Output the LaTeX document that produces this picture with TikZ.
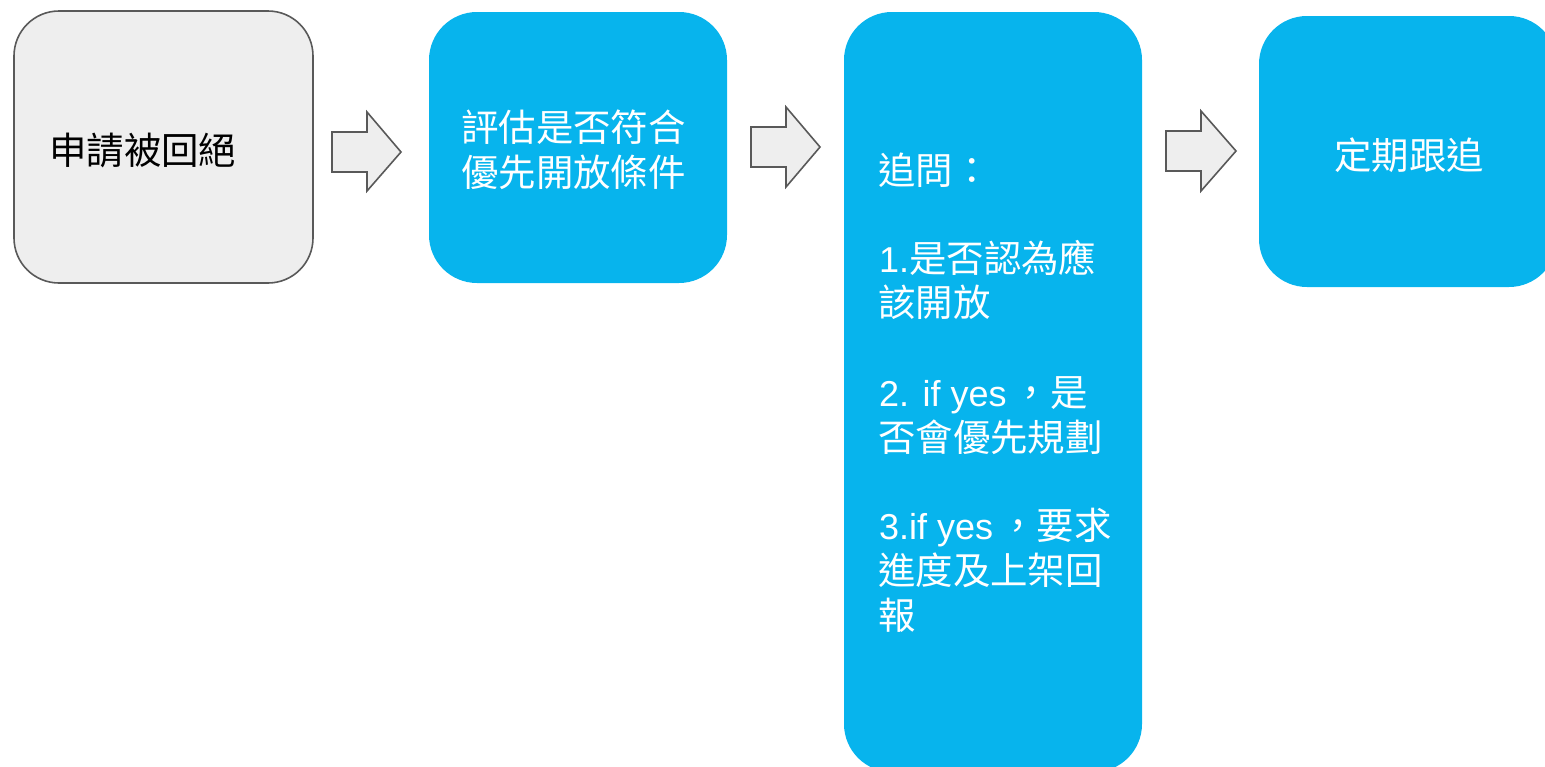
\documentclass[tikz,border=0pt]{standalone}
\usepackage{fontspec}
\setmainfont{Liberation Sans}
\newfontfamily\cjkfont[Scale=1.04]{Noto Sans CJK TC}
\newcommand\zhtxt[1]{{\cjkfont #1}}
\definecolor{boxblue}{RGB}{7,180,237}
\definecolor{boxgray}{RGB}{238,238,238}
\definecolor{edgegray}{RGB}{89,89,89}
\begin{document}
\begin{tikzpicture}[x=1pt,y=-1pt,
  graybox/.style={draw=edgegray,line width=1.6pt,fill=boxgray,rounded corners=45pt,inner sep=0pt},
  bluebox/.style={fill=boxblue,rounded corners=48pt,inner sep=0pt},
  blockarrow/.style={draw=edgegray,line width=1.6pt,fill=boxgray,line join=miter},
  lbl/.style={font=\fontsize{36}{45}\selectfont,inner sep=0pt,anchor=base west},
  wlbl/.style={lbl,text=white}]
\useasboundingbox (0,0) rectangle (1545,766);
\clip (0,0) rectangle (1545,766);
% boxes
\node[graybox,minimum width=299pt,minimum height=272pt] (b1) at (163.5,147) {};
\node[bluebox,minimum width=298pt,minimum height=271pt] (b2) at (578,147.5) {};
\node[bluebox,minimum width=298pt,minimum height=760pt] (b3) at (993,392) {};
\node[bluebox,minimum width=298pt,minimum height=271pt] (b4) at (1408,151.5) {};
% block arrows
\draw[blockarrow] (332,132) -- (367,132) -- (367,112) -- (401,152) -- (367,191) -- (367,172) -- (332,172) -- cycle;
\draw[blockarrow] (751,127) -- (786,127) -- (786,107) -- (820,147) -- (786,187) -- (786,167) -- (751,167) -- cycle;
\draw[blockarrow] (1166,131) -- (1201,131) -- (1201,111) -- (1236,151) -- (1201,191) -- (1201,171) -- (1166,171) -- cycle;
% texts
\node[lbl] (t1) at (49,164) {\zhtxt{申請被回絕}};
\node[wlbl] (t2a) at (461,141) {\zhtxt{評估是否符合}};
\node[wlbl] (t2b) at (461,186) {\zhtxt{優先開放條件}};
\node[wlbl] (t3a) at (878,184) {\zhtxt{追問：}};
\node[wlbl] (t3b) at (879,272) {1.\zhtxt{是否認為應}};
\node[wlbl] (t3c) at (878,316) {\zhtxt{該開放}};
\node[wlbl] (t3d) at (879,406) {2. if yes\,\zhtxt{，是}};
\node[wlbl] (t3e) at (878,451) {\zhtxt{否會優先規劃}};
\node[wlbl] (t3f) at (879,539) {3.if yes\,\zhtxt{，要求}};
\node[wlbl] (t3g) at (878,584) {\zhtxt{進度及上架回}};
\node[wlbl] (t3h) at (878,629) {\zhtxt{報}};
\node[wlbl] (t4) at (1334,169) {\zhtxt{定期跟追}};
\end{tikzpicture}
\end{document}
